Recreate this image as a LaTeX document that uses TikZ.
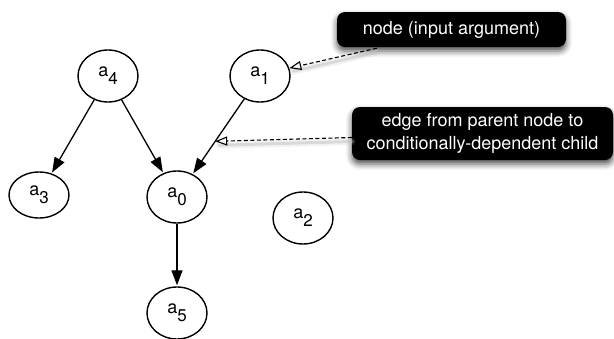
\documentclass[tikz,border=0pt]{standalone}
\usepackage{fontspec}
\setmainfont{TeX Gyre Heros}
\usetikzlibrary{arrows.meta,shapes.geometric,calc,shadows.blur}

\tikzset{
  var/.style={ellipse, draw, line width=1.4pt, minimum width=60pt,
    minimum height=52pt, inner sep=0pt, font=\fontsize{18}{20}\selectfont},
  dep/.style={line width=1.3pt, -{Triangle[length=15pt,width=11pt]}, shorten >=1pt},
  callout/.style={rounded corners=8pt, fill=black, text=white, align=center,
    font=\fontsize{18}{23}\selectfont, inner sep=0pt,
    blur shadow={shadow xshift=0pt, shadow yshift=-4pt, shadow blur radius=6pt,
      shadow opacity=70}},
  pointer/.style={line width=1.1pt, dash pattern=on 4pt off 2.5pt,
    -{Triangle[open,length=12pt,width=9pt,line width=1.1pt]}},
  pointershadow/.style={line width=3pt, draw=black!25, opacity=0.5,
    shorten >=4pt, line cap=round}
}
% variable label: letter with a lowered index
\newcommand{\varlabel}[1]{a\raisebox{-8pt}{\fontsize{17}{17}\selectfont #1}}

\begin{document}
\begin{tikzpicture}[x=1pt, y=-1pt]
  \useasboundingbox (0,0) rectangle (614,338);

  % variables
  \node[var] (a4) at (108,76) {\varlabel{4}};
  \node[var] (a1) at (260,76) {\varlabel{1}};
  \node[var, minimum height=46pt] (a3) at (39,195) {\varlabel{3}};
  \node[var] (a0) at (177,197) {\varlabel{0}};
  \node[var] (a2) at (303,218) {\varlabel{2}};
  \node[var] (a5) at (177,313) {\varlabel{5}};

  % dependencies
  \draw[dep] (a4) -- (a3);
  \draw[dep] (a4) -- (a0);
  \draw[dep] (a1) -- (a0);
  \draw[dep] (a0) -- (a5);

  % callouts
  \node[callout, minimum width=229pt, minimum height=35pt] (box1) at (451.5,29.5)
    {node (input argument)};
  \node[callout, minimum width=261pt, minimum height=53pt] (box2) at (482.5,133.5)
    {edge from parent node to\\conditionally-dependent child};

  \coordinate (p1) at ($(box1.south west)+(40,1)$);
  \coordinate (p2) at ($(box2.west)+(0,4)$);
  \coordinate (e1) at ($(a1)!0.54!(a0)$);

  % soft shadows under the pointers
  \begin{scope}[transform canvas={yshift=-4pt}]
    \draw[pointershadow] (p1) -- (a1.15);
    \draw[pointershadow] (p2) -- (e1);
    \draw[pointershadow, line width=7pt, opacity=0.2] (p1) -- (a1.15);
    \draw[pointershadow, line width=7pt, opacity=0.2] (p2) -- (e1);
  \end{scope}

  % pointers from the callouts
  \draw[pointer] (p1) -- (a1.15);
  \draw[pointer] (p2) -- (e1);
\end{tikzpicture}
\end{document}
